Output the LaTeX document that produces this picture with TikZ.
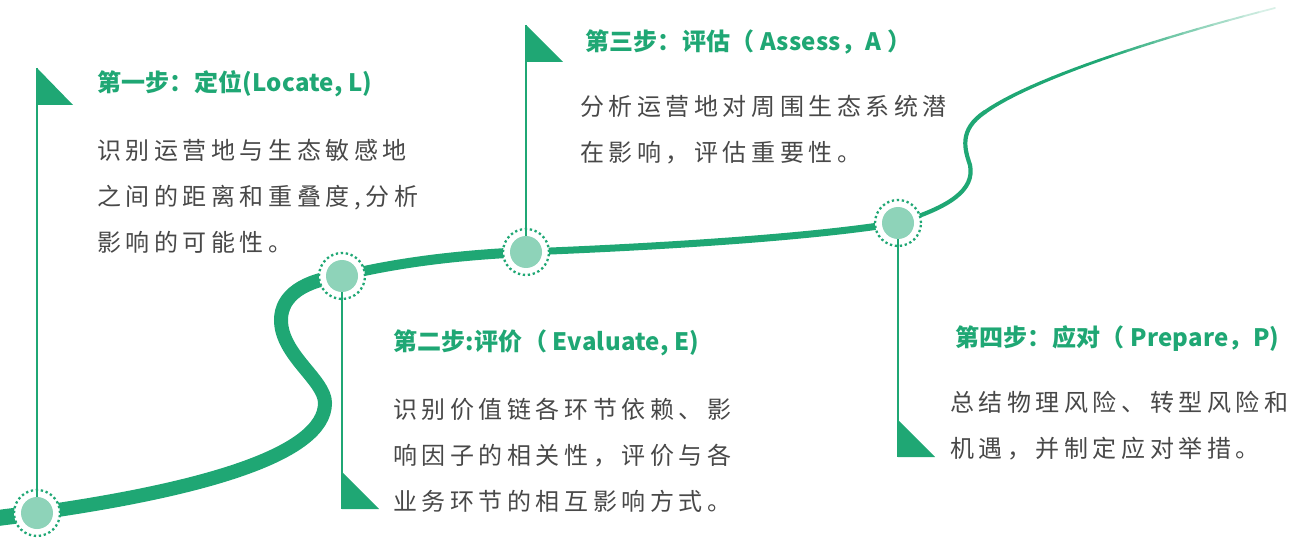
\documentclass[tikz,border=0pt]{standalone}
\usepackage{fontspec}
\setmainfont{Noto Sans CJK SC}
\newfontfamily\bodyfont[LetterSpace=19]{Noto Sans CJK SC}
\newfontfamily\headfont[LetterSpace=1]{Noto Sans CJK SC}
\definecolor{leaf}{HTML}{1FA774}
\definecolor{mint}{HTML}{8ED3B9}
\definecolor{prose}{HTML}{484848}
\tikzset{
  route/.style={draw=leaf, line cap=round},
  stopring/.style={circle, draw=leaf, fill=white, line width=2.3pt, dash pattern=on 2.3pt off 2.7pt, minimum size=46pt, inner sep=0pt},
  stopcore/.style={circle, fill=mint, minimum size=32pt, inner sep=0pt},
  pole/.style={draw=leaf, line width=2.5pt},
  flagtri/.style={fill=leaf},
  steptitle/.style={anchor=west, inner sep=0pt, text=leaf, font=\headfont\bfseries\fontsize{24}{28}\selectfont},
  stepbody/.style={anchor=west, inner sep=0pt, align=left, text=prose, font=\bodyfont\fontsize{24}{46}\selectfont},
}

\begin{document}
\begin{tikzpicture}[x=1pt,y=-1pt]
\useasboundingbox (0,0) rectangle (1302,540);
% stops along the road
\coordinate (start) at (-10,519);
\coordinate (p1) at (37,513);
\coordinate (p2) at (342,276);
\coordinate (p3) at (526,252);
\coordinate (p4) at (898,223);
\coordinate (bend) at (985,112);
\coordinate (tail) at (1275,8);

% the road, thinning out to the right
\draw[route, line width=16pt] (start) -- (p1);
\draw[route, line width=14pt] (p1) .. controls (200,490) and (325,455) .. (325,403)
  .. controls (325,380) and (281,355) .. (281,320)
  .. controls (281,295) and (305,280) .. (p2);
\draw[route, line width=10pt] (p2) .. controls (400,262) and (460,255) .. (p3);
\draw[route, line width=7pt] (p3) .. controls (680,246) and (820,236) .. (p4);
\draw[route, line width=4.2pt] (p4) .. controls (950,207) and (975,190) .. (970,165)
  .. controls (965,150) and (958,130) .. (bend);
\path (bend) .. controls (1030,80) and (1150,40) .. (tail)
  \foreach \k in {0,...,24}{coordinate[pos=\k/24] (q\k)};
\foreach \k [evaluate=\k as \nx using int(\k+1),
             evaluate=\k as \tone using {\k<12 ? 100 : 100-7.5*(\k-12)},
             evaluate=\k as \lw using 3.8-0.09*\k] in {0,...,23}
  \draw[route, draw=leaf!\tone!white, line width=\lw pt] (q\k) -- (q\nx);

% stop markers
\foreach \i in {1,...,4}{
  \node[stopring] (s\i) at (p\i) {};
  \node[stopcore] (c\i) at (p\i) {};
}

% flags
\coordinate (f1) at (37,68);
\coordinate (f2) at (342,509);
\coordinate (f3) at (526,25);
\coordinate (f4) at (898,457);
\draw[pole] (c1.north) -- (f1);
\draw[pole] (c2.south) -- (f2);
\draw[pole] (c3.north) -- (f3);
\draw[pole] (c4.south) -- (f4);
\fill[flagtri] (f1) -- ++(36,37) -- ++(-36,0) -- cycle;
\fill[flagtri] (f3) -- ++(37,37) -- ++(-37,0) -- cycle;
\fill[flagtri] (f2) -- ++(0,-37) -- ++(37,37) -- cycle;
\fill[flagtri] (f4) -- ++(0,-37) -- ++(37,37) -- cycle;

% step texts
\node[steptitle] (t1) at (97,84) {第一步：定位(Locate, L)};
\node[stepbody] (b1) at (97,196) {识别运营地与生态敏感地\\之间的距离和重叠度,分析\\影响的可能性。};
\node[steptitle] (t2) at (393,343) {第二步:评价（ Evaluate, E)};
\node[stepbody] (b2) at (393,455) {识别价值链各环节依赖、影\\响因子的相关性，评价与各\\业务环节的相互影响方式。};
\node[steptitle] (t3) at (585,42) {第三步：评估（ Assess，A ）};
\node[stepbody] (b3) at (580,130) {分析运营地对周围生态系统潜\\在影响，评估重要性。};
\node[steptitle] (t4) at (955,339) {第四步：应对（ Prepare，P)};
\node[stepbody] (b4) at (950,426) {总结物理风险、转型风险和\\机遇，并制定应对举措。};
\end{tikzpicture}
\end{document}
